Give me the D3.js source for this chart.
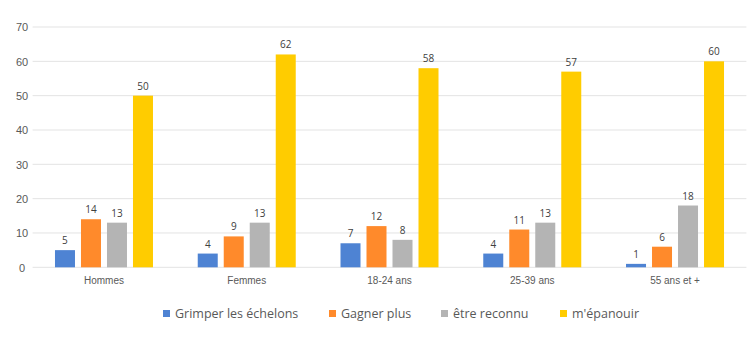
<!DOCTYPE html>
<html><head><meta charset="utf-8">
<script src="https://cdn.jsdelivr.net/npm/d3@7"></script>
<style>body{margin:0;background:#fff}svg{display:block;font-family:"Open Sans","Noto Sans",sans-serif}</style>
</head><body><svg id="c" width="751" height="347"></svg>
<script>
const categories = ["Hommes","Femmes","18-24 ans","25-39 ans","55 ans et +"];
const seriesNames = ["Grimper les échelons","Gagner plus","être reconnu","m'épanouir"];
const grimper = [5,4,7,4,1];
const gagner = [14,9,12,11,6];
const reconnu = [13,13,8,13,18];
const epanouir = [50,62,58,57,60];
const yTicks = [0,10,20,30,40,50,60,70];
const colors = ["#4E83D3","#FF8A2B","#B4B4B4","#FFCC00"];
const series = [grimper,gagner,reconnu,epanouir];

(function(){
const svg = d3.select("#c");
const pLeft = 32.6, pRight = 746.4, pTop = 27, pBottom = 267.3;
const x = d3.scaleBand().domain(categories).range([pLeft,pRight]).paddingInner(0).paddingOuter(0);
const y = d3.scaleLinear().domain([0,70]).range([pBottom,pTop]);
const barW = 20, step = 26;

svg.append("g").selectAll("line").data(yTicks).join("line")
  .attr("x1",pLeft).attr("x2",pRight).attr("y1",d=>y(d)).attr("y2",d=>y(d))
  .attr("stroke","#E3E3E3").attr("stroke-width",1);
const yAxis = d3.axisLeft(y).tickValues(yTicks).tickSize(0).tickPadding(0);
const ga = svg.append("g").attr("transform","translate(22,0)").call(yAxis);
ga.select(".domain").remove();
ga.selectAll("text").attr("fill","#595959").style("font-size","11px").attr("text-anchor","middle").attr("dy","0.35em");

const xAxis = d3.axisBottom(x).tickSize(0).tickPadding(0);
const gx = svg.append("g").attr("transform",`translate(0,${pBottom+10})`).call(xAxis);
gx.select(".domain").remove();
gx.selectAll("text").attr("fill","#595959").style("font-size","10px").attr("dy","0.71em");

series.forEach((vals,si)=>{
  const g = svg.append("g");
  const xo = c => x(c) + x.bandwidth()/2 - (4*barW+3*6)/2 + si*step;
  g.selectAll("rect").data(categories).join("rect")
    .attr("x",c=>xo(c)).attr("width",barW)
    .attr("y",(c,i)=>y(vals[i])).attr("height",(c,i)=>y(0)-y(vals[i]))
    .attr("fill",colors[si]);
  g.selectAll("text").data(categories).join("text")
    .attr("x",c=>xo(c)+barW/2).attr("y",(c,i)=>y(vals[i])-6)
    .attr("text-anchor","middle").attr("fill","#404040").style("font-size","10px")
    .text((c,i)=>vals[i]);
});

const legX = [163,329,441,560];
const lg = svg.append("g");
seriesNames.forEach((n,i)=>{
  lg.append("rect").attr("x",legX[i]).attr("y",310).attr("width",7).attr("height",7).attr("fill",colors[i]);
  lg.append("text").attr("x",legX[i]+12).attr("y",314).attr("dy","0.35em")
    .attr("fill","#595959").style("font-size","12.5px").text(n);
});
})();
</script></body></html>
